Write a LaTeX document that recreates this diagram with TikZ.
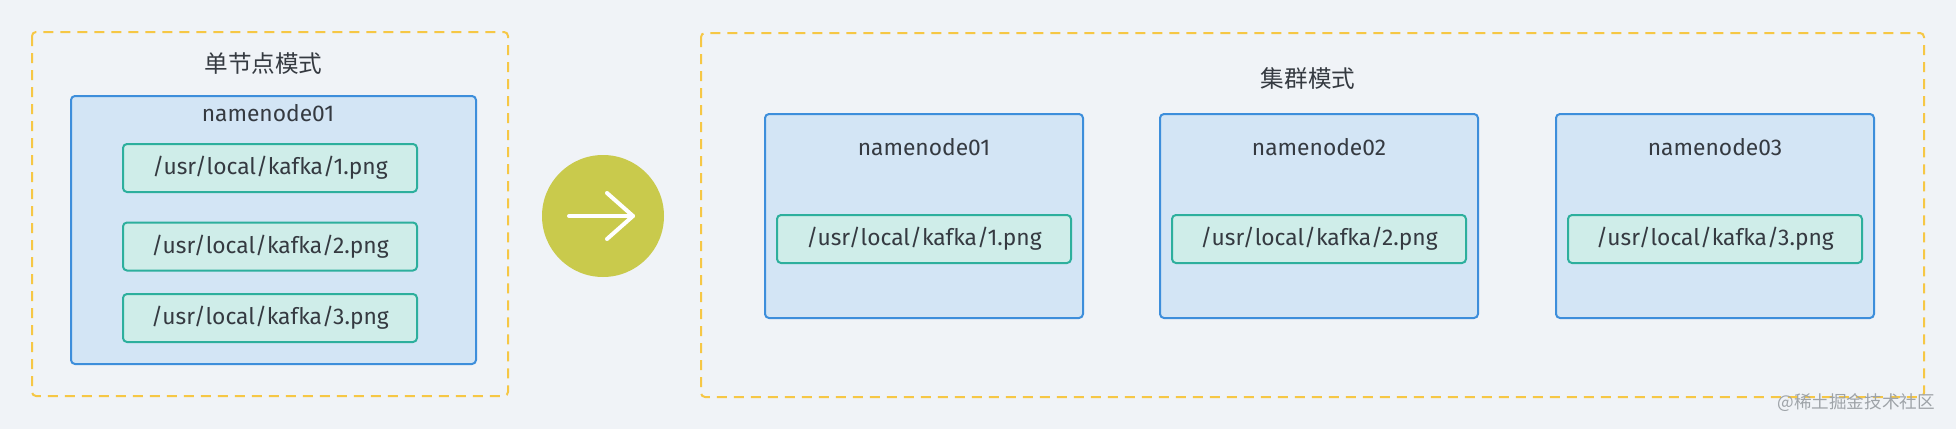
\documentclass[tikz,border=0pt]{standalone}
\usepackage{fontspec}
\setmainfont{Fira Sans}
\newfontfamily\cjk{Noto Sans CJK SC}
\definecolor{bg}{HTML}{F0F3F7}
\definecolor{dashyellow}{HTML}{F6C745}
\definecolor{hostline}{HTML}{3D8EDB}
\definecolor{hostfill}{HTML}{D3E5F5}
\definecolor{fileline}{HTML}{2DAF9D}
\definecolor{filefill}{HTML}{CFEDE9}
\definecolor{goclr}{HTML}{C9CA4C}
\definecolor{txt}{HTML}{353A41}
\definecolor{wm}{HTML}{9EA3A8}
\begin{document}
\begin{tikzpicture}[x=0.5pt,y=-0.5pt,
    mode/.style={draw=dashyellow,line width=1pt,dash pattern=on 5pt off 3.5pt,rounded corners=2pt},
    host/.style={draw=hostline,fill=hostfill,line width=1pt,rounded corners=2pt,minimum width=159pt,minimum height=102pt,inner sep=0pt},
    file/.style={draw=fileline,fill=filefill,line width=1pt,rounded corners=2pt,minimum width=147pt,minimum height=24pt,inner sep=0pt,text=txt,font=\fontsize{11.4}{13}\selectfont},
    lbl/.style={text=txt,font=\fontsize{11.4}{13}\selectfont},
    ttl/.style={text=txt,font=\cjk\fontsize{11.8}{14}\selectfont}]
    \fill[bg] (0,0) rectangle (1956,429);
    % single node mode
    \draw[mode] (32,32) rectangle (508,396);
    \node[ttl] (singletitle) at (263.5,64) {单节点模式};
    \node[host,minimum width=202.5pt,minimum height=134pt] (single) at (273.5,230) {};
    \node[lbl] (singlelbl) at (268,113) {namenode01};
    \node[file] (sfile1) at (270,168) {/usr/local/kafka/1.png};
    \node[file] (sfile2) at (270,246.5) {/usr/local/kafka/2.png};
    \node[file] (sfile3) at (270,318) {/usr/local/kafka/3.png};
    % arrow
    \node[circle,fill=goclr,minimum size=61pt,inner sep=0pt] (go) at (603,216) {};
    \draw[white,line width=2pt,line cap=round,line join=round]
        ([xshift=-17pt]go.center) -- ([xshift=15pt]go.center);
    \draw[white,line width=2pt,line cap=round,line join=round]
        ([xshift=2pt,yshift=11.5pt]go.center) -- ([xshift=15pt]go.center) -- ([xshift=2pt,yshift=-11.5pt]go.center);
    % cluster mode
    \draw[mode] (701,33) rectangle (1924,397);
    \node[ttl] (clustertitle) at (1308,79) {集群模式};
    \foreach \i/\x in {1/924,2/1319,3/1715} {
        \node[host] (host\i) at (\x,216) {};
        \node[lbl] (hostlbl\i) at (\x,147) {namenode0\i};
        \node[file] (cfile\i) at (\x,239) {/usr/local/kafka/\i.png};
    }
    \node[anchor=east,text=wm,font=\cjk\fontsize{8.8}{10}\selectfont] (mark) at (1942,403) {@稀土掘金技术社区};
\end{tikzpicture}
\end{document}
